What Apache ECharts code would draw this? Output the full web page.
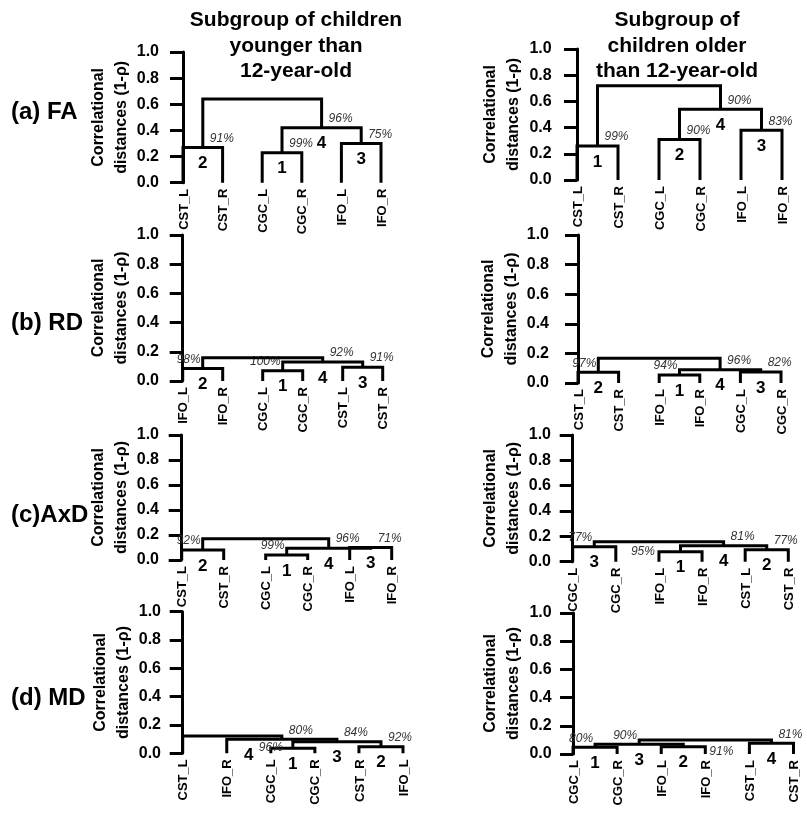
<!DOCTYPE html>
<html><head><meta charset="utf-8">
<script src="https://cdn.jsdelivr.net/npm/echarts@6/dist/echarts.min.js"></script>
<style>html,body{margin:0;padding:0;background:#fff}#c{width:807px;height:814px}</style>
</head><body><div id="c"></div><script>
// ---------- data ----------
const yTicks = [0, 0.2, 0.4, 0.6, 0.8, 1.0];
const axisName = 'Correlational\ndistances (1-\u03c1)';
const titleLeft = ['Subgroup of children', 'younger than', '12-year-old'];
const titleRight = ['Subgroup of', 'children older', 'than 12-year-old'];
const rowLabels = ['(a) FA', '(b) RD', '(c)AxD', '(d) MD'];

// merges: [childA, childB, height]; children 0..5 are leaves, 6.. are merges
// (a) FA younger
const aL_leaves = ['CST_L','CST_R','CGC_L','CGC_R','IFO_L','IFO_R'];
const aL_merges = [[0,1,0.27],[2,3,0.23],[4,5,0.30],[7,8,0.42],[6,9,0.64]];
const aL_pct = [['91%',6,'r'],['99%',7,'r'],['75%',8,'r'],['96%',9,'r']];
const aL_num = [['2',6],['1',7],['3',8],['4',9]];
// (a) FA older
const aR_leaves = ['CST_L','CST_R','CGC_L','CGC_R','IFO_L','IFO_R'];
const aR_merges = [[0,1,0.26],[2,3,0.31],[4,5,0.38],[7,8,0.54],[6,9,0.72]];
const aR_pct = [['99%',6,'r'],['90%',7,'r'],['83%',8,'r'],['90%',9,'r']];
const aR_num = [['1',6],['2',7],['3',8],['4',9]];
// (b) RD younger
const bL_leaves = ['IFO_L','IFO_R','CGC_L','CGC_R','CST_L','CST_R'];
const bL_merges = [[0,1,0.085],[2,3,0.07],[4,5,0.095],[7,8,0.13],[6,9,0.16]];
const bL_pct = [['98%',6,'l'],['100%',7,'l'],['91%',8,'r'],['92%',9,'r']];
const bL_num = [['2',6],['1',7],['3',8],['4',9]];
// (b) RD older
const bR_leaves = ['CST_L','CST_R','IFO_L','IFO_R','CGC_L','CGC_R'];
const bR_merges = [[0,1,0.072],[2,3,0.054],[4,5,0.074],[7,8,0.09],[6,9,0.167]];
const bR_pct = [['97%',6,'l'],['94%',7,'l'],['82%',8,'r'],['96%',9,'r']];
const bR_num = [['2',6],['1',7],['3',8],['4',9]];
// (c) AxD younger
const cL_leaves = ['CST_L','CST_R','CGC_L','CGC_R','IFO_L','IFO_R'];
const cL_merges = [[0,1,0.08],[2,3,0.04],[4,5,0.10],[7,8,0.095],[6,9,0.17]];
const cL_pct = [['92%',6,'l'],['99%',7,'l'],['71%',8,'r'],['96%',9,'r']];
const cL_num = [['2',6],['1',7],['3',8],['4',9]];
// (c) AxD older
const cR_leaves = ['CGC_L','CGC_R','IFO_L','IFO_R','CST_L','CST_R'];
const cR_merges = [[0,1,0.118],[2,3,0.079],[4,5,0.095],[7,8,0.126],[6,9,0.158]];
const cR_pct = [['77%',6,'l'],['95%',7,'ll'],['77%',8,'r'],['81%',9,'r']];
const cR_num = [['3',6],['1',7],['2',8],['4',9]];
// (d) MD younger
const dL_leaves = ['CST_L','IFO_R','CGC_L','CGC_R','CST_R','IFO_L'];
const dL_merges = [[2,3,0.035],[4,5,0.047],[6,7,0.082],[1,8,0.099],[0,9,0.122]];
const dL_pct = [['96%',6,'lm'],['92%',7,'r'],['84%',8,'r'],['80%',9,'r']];
const dL_num = [['1',6],['2',7],['3',8],['4',9,1.5]];
// (d) MD older
const dR_leaves = ['CGC_L','CGC_R','IFO_L','IFO_R','CST_L','CST_R'];
const dR_merges = [[0,1,0.048],[2,3,0.052],[6,7,0.069],[4,5,0.076],[8,9,0.10]];
const dR_pct = [['80%',6,'l'],['91%',7,'rb'],['90%',8,'l'],['81%',9,'r']];
const dR_num = [['1',6],['2',7],['3',8],['4',9]];

const panels = [
  {leaves:aL_leaves, merges:aL_merges, pct:aL_pct, num:aL_num},
  {leaves:aR_leaves, merges:aR_merges, pct:aR_pct, num:aR_num},
  {leaves:bL_leaves, merges:bL_merges, pct:bL_pct, num:bL_num},
  {leaves:bR_leaves, merges:bR_merges, pct:bR_pct, num:bR_num},
  {leaves:cL_leaves, merges:cL_merges, pct:cL_pct, num:cL_num},
  {leaves:cR_leaves, merges:cR_merges, pct:cR_pct, num:cR_num},
  {leaves:dL_leaves, merges:dL_merges, pct:dL_pct, num:dL_num},
  {leaves:dR_leaves, merges:dR_merges, pct:dR_pct, num:dR_num}
];

// ---------- layout ----------
const layout = [
  {axisX:173,   leaf0:183,   leaf5:381,   top:52,    bottom:182.7},
  {axisX:565.7, leaf0:577,   leaf5:782,   top:49,    bottom:180},
  {axisX:173,   leaf0:182.7, leaf5:382.7, top:235,   bottom:381},
  {axisX:563,   leaf0:578,   leaf5:781,   top:235,   bottom:383},
  {axisX:173,   leaf0:181.7, leaf5:391.7, top:435,   bottom:560},
  {axisX:565,   leaf0:572.7, leaf5:788.3, top:435,   bottom:561.7},
  {axisX:175,   leaf0:182.7, leaf5:403,   top:611.7, bottom:753.3},
  {axisX:565.7, leaf0:573.3, leaf5:801.7, top:613,   bottom:754}
];
const FONT = '"Liberation Sans", Arial, Helvetica, sans-serif';
const rowY = [112, 323, 515, 698];
const titleY = [20, 46, 71];

const grids = [], xAxes = [], yAxes = [], series = [];

function txt(x, y, text, font, align, valign, fill, rotation) {
  return {type:'text', x:x, y:y, rotation:rotation || 0,
    style:{text:text, font:font, fill:fill || '#000',
      textAlign:align, textVerticalAlign:valign, align:align, verticalAlign:valign}};
}

panels.forEach((p, i) => {
  const L = layout[i];
  const sp = (L.leaf5 - L.leaf0) / 5;
  grids.push({left:L.axisX, top:L.top, width:(L.leaf5 + 14 - L.axisX), height:(L.bottom - L.top)});
  xAxes.push({gridIndex:i, type:'value', show:false, min:-(L.leaf0 - L.axisX)/sp, max:5 + 14/sp});
  yAxes.push({gridIndex:i, type:'value', min:yTicks[0], max:yTicks[yTicks.length-1], interval:yTicks[1]-yTicks[0],
    axisLine:{show:true, lineStyle:{color:'#000', width:3}},
    axisTick:{show:true, length:13, lineStyle:{color:'#000', width:3}},
    axisLabel:{margin:14, color:'#000', fontWeight:'bold', fontSize:16, fontFamily:FONT, formatter:v => v.toFixed(1)},
    splitLine:{show:false},
    name:axisName, nameLocation:'middle', nameGap:38, nameRotate:90,
    nameTextStyle:{color:'#000', fontWeight:'bold', fontSize:16, lineHeight:23, fontFamily:FONT}
  });
  // node centres and heights
  const cx = [0,1,2,3,4,5], hh = [0,0,0,0,0,0];
  p.merges.forEach(m => { cx.push((cx[m[0]] + cx[m[1]]) / 2); hh.push(m[2]); });

  series.push({
    type:'custom', xAxisIndex:i, yAxisIndex:i, clip:false, silent:true,
    data:p.merges.map((m, k) => [k, m[2]]),
    renderItem:function(params, api) {
      const k = api.value(0);
      const m = p.merges[k];
      const n = 6 + k;
      const a = m[0], b = m[1];
      const p1 = api.coord([cx[a], hh[a]]), p2 = api.coord([cx[a], m[2]]);
      const p3 = api.coord([cx[b], m[2]]), p4 = api.coord([cx[b], hh[b]]);
      const children = [{type:'polyline', shape:{points:[p1,p2,p3,p4]},
        style:{stroke:'#000', lineWidth:3, fill:null, lineJoin:'miter'}}];
      const c = api.coord([cx[n], m[2]]);
      p.pct.forEach(q => {
        if (q[1] !== n) return;
        const f = 'italic 12px ' + FONT;
        let t;
        if (q[2] === 'r') t = txt(c[0] + 7, c[1] - 3, q[0], f, 'left', 'bottom', '#333');
        else if (q[2] === 'l') t = txt(c[0] - 2, c[1] - 3, q[0], f, 'right', 'bottom', '#333');
        else if (q[2] === 'lm') t = txt(c[0] - 10, c[1] - 1, q[0], f, 'right', 'middle', '#333');
        else if (q[2] === 'll') t = txt(p2[0] - 4, c[1], q[0], f, 'right', 'middle', '#333');
        else if (q[2] === 'rb') t = txt(p3[0] + 4, c[1] - 1, q[0], f, 'left', 'top', '#333');
        children.push(t);
      });
      p.num.forEach(q => {
        if (q[1] !== n) return;
        const xx = q.length > 2 ? api.coord([q[2], m[2]])[0] : c[0];
        children.push(txt(xx, c[1] + 16, q[0], 'bold 17px ' + FONT, 'center', 'middle', '#000'));
      });
      return {type:'group', children:children};
    }
  });
  series.push({
    type:'custom', xAxisIndex:i, yAxisIndex:i, clip:false, silent:true,
    data:p.leaves.map((nm, j) => [j, 0]),
    renderItem:function(params, api) {
      const j = api.value(0);
      const pt = api.coord([j, 0]);
      return txt(pt[0] + 1, pt[1] + 6, p.leaves[j], 'bold 13px ' + FONT, 'right', 'middle', '#000', Math.PI / 2);
    }
  });
});

const graphic = [];
titleLeft.forEach((t, k) => graphic.push({type:'text', x:296, y:titleY[k],
  style:{text:t, font:'bold 21px ' + FONT, fill:'#000', textAlign:'center', textVerticalAlign:'middle', align:'center', verticalAlign:'middle'}}));
titleRight.forEach((t, k) => graphic.push({type:'text', x:677, y:titleY[k],
  style:{text:t, font:'bold 21px ' + FONT, fill:'#000', textAlign:'center', textVerticalAlign:'middle', align:'center', verticalAlign:'middle'}}));
rowLabels.forEach((t, k) => graphic.push({type:'text', x:11, y:rowY[k],
  style:{text:t, font:'bold 24px ' + FONT, fill:'#000', textAlign:'left', textVerticalAlign:'middle', align:'left', verticalAlign:'middle'}}));

const chart = echarts.init(document.getElementById('c'), null, {renderer:'canvas'});
chart.setOption({animation:false, backgroundColor:'#fff', grid:grids, xAxis:xAxes, yAxis:yAxes, series:series, graphic:graphic});
</script></body></html>
